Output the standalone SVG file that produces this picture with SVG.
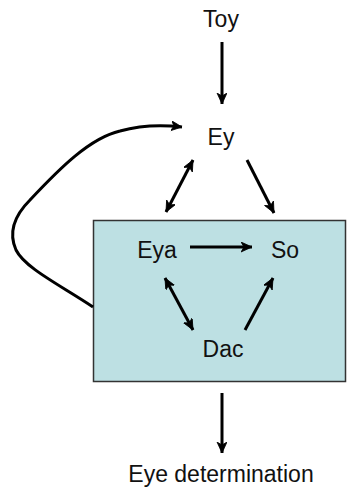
<svg xmlns="http://www.w3.org/2000/svg" width="348" height="491" viewBox="0 0 348 491">
<style>
.lbl{font-family:"Liberation Sans",Arial,sans-serif;font-size:23px;fill:#111;text-anchor:middle}
.ar{stroke:#000;stroke-width:3;fill:none;marker-end:url(#ah)}
.dbl{marker-start:url(#ah)}
</style>
<defs>
<marker id="ah" markerUnits="userSpaceOnUse" markerWidth="14" markerHeight="12" refX="11" refY="5" orient="auto-start-reverse" viewBox="0 0 14 12">
<path d="M0,0 L11,5 L0,10 L3,5 Z" fill="#000" stroke="#000" stroke-width="0.8"/>
</marker>
</defs>
<rect width="348" height="491" fill="#fff"/>
<g id="box"><rect x="93.5" y="220.5" width="252" height="161" fill="#bde0e3" stroke="#333" stroke-width="1.5"/></g>
<g id="toy"><text class="lbl" x="221" y="27">Toy</text></g>
<g id="ey"><text class="lbl" x="221" y="145">Ey</text></g>
<g id="eya"><text class="lbl" x="157" y="258">Eya</text></g>
<g id="so"><text class="lbl" x="285" y="258">So</text></g>
<g id="dac"><text class="lbl" x="223" y="357">Dac</text></g>
<g id="eyedet"><text class="lbl" x="221" y="482">Eye determination</text></g>
<g id="connectors">
<line class="ar" x1="222" y1="42" x2="222" y2="104"/>
<path class="ar" d="M93,307 C60,285 25,268 16,250 C8,232 15,215 30,200 C60,168 90,138 120,131 C145,124 165,125 182,127"/>
<line class="ar dbl" x1="193" y1="160" x2="166" y2="212"/>
<line class="ar" x1="247" y1="160" x2="274" y2="213"/>
<line class="ar" x1="190" y1="247" x2="252" y2="247"/>
<line class="ar dbl" x1="165" y1="278" x2="193" y2="330"/>
<line class="ar" x1="245" y1="330" x2="273" y2="278"/>
<line class="ar" x1="222" y1="393" x2="222" y2="453"/>
</g>
</svg>
